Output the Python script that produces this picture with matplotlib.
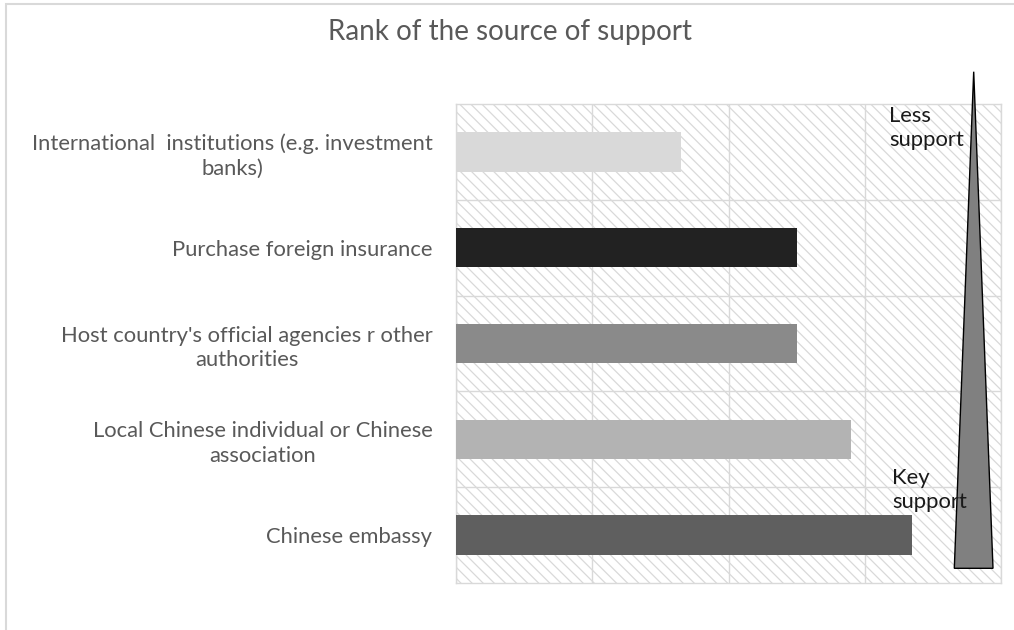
import matplotlib
matplotlib.use("Agg")
import matplotlib.pyplot as plt
from matplotlib.patches import Rectangle, Polygon

plt.rcParams['font.family'] = ['Lato', 'DejaVu Sans']
plt.rcParams['hatch.linewidth'] = 0.9

# categories listed top to bottom
categories = [
    "International  institutions (e.g. investment\nbanks)",
    "Purchase foreign insurance",
    "Host country's official agencies r other\nauthorities",
    "Local Chinese individual or Chinese\nassociation",
    "Chinese embassy",
]
rank_values = [1.65, 2.5, 2.5, 2.9, 3.35]
bar_colors = ["#d9d9d9", "#222222", "#8a8a8a", "#b3b3b3", "#5f5f5f"]

W, H = 1014, 630
fig = plt.figure(figsize=(W / 100, H / 100), dpi=100)

# outer chart frame (only left and top edges fall inside the canvas)
fig.add_artist(Rectangle((6 / W, -0.2), 1.3, 1.2 - 3.5 / H, transform=fig.transFigure,
                         fill=False, edgecolor="#d9d9d9", linewidth=1.5))

ax = fig.add_axes([456 / W, 1 - 583 / H, (1001 - 456) / W, (583 - 104) / H])

# hatched plot-area background
ax.add_patch(Rectangle((0, 0), 1, 1, transform=ax.transAxes, facecolor="white",
                       edgecolor="#d9d9d9", hatch="\\\\\\", linewidth=0, zorder=0))

ypos = list(range(len(categories)))
ax.barh(ypos, rank_values, height=0.41, color=bar_colors, zorder=3)

ax.set_xlim(0, 4)
ax.set_ylim(len(categories) - 0.5, -0.5)
ax.set_xticks([0, 1, 2, 3, 4])
ax.set_xticklabels([])
ax.set_yticks(ypos)
ax.set_yticklabels(categories, fontsize=15.8, color="#595959", linespacing=1.28)
for t in ax.get_yticklabels():
    t.set_multialignment("center")
ax.set_yticks([y + 0.5 for y in ypos[:-1]], minor=True)
ax.tick_params(axis="both", which="both", length=0)
ax.tick_params(axis="y", pad=17)
ax.grid(axis="x", which="major", color="#d9d9d9", linewidth=1.0, zorder=1)
ax.grid(axis="y", which="minor", color="#d9d9d9", linewidth=1.0, zorder=1)
ax.set_axisbelow(True)
for s in ax.spines.values():
    s.set_color("#d9d9d9")
    s.set_linewidth(1.0)

fig.text(510 / W, 1 - 32 / H, "Rank of the source of support", ha="center", va="center",
         fontsize=20, color="#595959")

# support-level wedge beside the bars
tri = [(973.7, 71.7), (954.3, 568.3), (993.0, 568.3)]
fig.add_artist(Polygon([(x / W, 1 - y / H) for x, y in tri], closed=True,
                       transform=fig.transFigure, facecolor="#808080",
                       edgecolor="black", linewidth=1.0, zorder=5))

fig.text(889 / W, 1 - 128 / H, "Less\nsupport", ha="left", va="center",
         fontsize=15.8, color="#1a1a1a", linespacing=1.3, zorder=6)
fig.text(892 / W, 1 - 490 / H, "Key\nsupport", ha="left", va="center",
         fontsize=15.8, color="#1a1a1a", linespacing=1.3, zorder=6)

fig.savefig("out.png", dpi=100)
